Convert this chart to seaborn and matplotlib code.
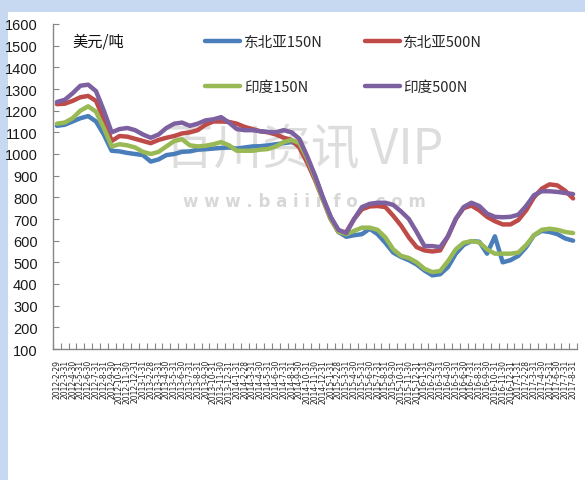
import pandas as pd
import seaborn as sns
import matplotlib.pyplot as plt
from matplotlib.patches import Rectangle

# month-end dates, 2012-2 .. 2017-8
dates = [
    "2012-2-29", "2012-3-31", "2012-4-30", "2012-5-31", "2012-6-30", "2012-7-31",
    "2012-8-31", "2012-9-30", "2012-10-31", "2012-11-30", "2012-12-31",
    "2013-1-31", "2013-2-28", "2013-3-31", "2013-4-30", "2013-5-31", "2013-6-30",
    "2013-7-31", "2013-8-31", "2013-9-30", "2013-10-31", "2013-11-30", "2013-12-31",
    "2014-1-31", "2014-2-28", "2014-3-31", "2014-4-30", "2014-5-31", "2014-6-30",
    "2014-7-31", "2014-8-31", "2014-9-30", "2014-10-31", "2014-11-30", "2014-12-31",
    "2015-1-31", "2015-2-28", "2015-3-31", "2015-4-30", "2015-5-31", "2015-6-30",
    "2015-7-31", "2015-8-31", "2015-9-30", "2015-10-31", "2015-11-30", "2015-12-31",
    "2016-1-31", "2016-2-29", "2016-3-31", "2016-4-30", "2016-5-31", "2016-6-30",
    "2016-7-31", "2016-8-31", "2016-9-30", "2016-10-31", "2016-11-30", "2016-12-31",
    "2017-1-31", "2017-2-28", "2017-3-31", "2017-4-30", "2017-5-31", "2017-6-30",
    "2017-7-31", "2017-8-31",
]

ne_asia_150 = [
    1130, 1135, 1150, 1165, 1175, 1150, 1090, 1015, 1012, 1005, 1000, 995, 965,
    975, 995, 1000, 1010, 1012, 1020, 1022, 1025, 1028, 1030, 1025, 1030, 1035,
    1036, 1040, 1045, 1050, 1055, 1040, 980, 900, 800, 710, 640, 618, 625, 630,
    655, 630, 590, 545, 525, 510, 490, 462, 440, 445, 478, 540, 580, 598, 595,
    540, 620, 500, 510, 530, 570, 625, 645, 640, 630, 610, 600,
]
ne_asia_500 = [
    1230, 1232, 1245, 1262, 1268, 1245, 1160, 1060, 1083, 1080, 1070, 1060, 1050,
    1065, 1075, 1083, 1095, 1100, 1110, 1135, 1150, 1150, 1148, 1140, 1125, 1115,
    1105, 1100, 1090, 1075, 1065, 1030, 960, 880, 790, 700, 640, 640, 700, 745,
    758, 760, 755, 715, 670, 615, 570, 555, 550, 555, 620, 700, 750, 762, 740,
    710, 690, 675, 675, 695, 740, 800, 840, 860, 855, 830, 795,
]
india_150 = [
    1140, 1145, 1165, 1200, 1220, 1195, 1120, 1035, 1045, 1040, 1030, 1010, 1000,
    1010, 1035, 1060, 1068, 1040, 1035, 1038, 1045, 1055, 1040, 1015, 1015, 1015,
    1020, 1023, 1035, 1055, 1065, 1050, 980, 890, 790, 700, 640, 630, 645, 660,
    660, 650, 615, 560, 530, 520, 500, 470, 455, 460, 505, 560, 590, 598, 592,
    560, 540, 540, 540, 545, 580, 625, 650, 655, 650, 640, 635,
]
india_500 = [
    1240, 1250, 1280, 1315, 1320, 1290, 1200, 1100, 1115, 1120, 1110, 1090, 1075,
    1090, 1120, 1140, 1145, 1130, 1140, 1155, 1160, 1170, 1145, 1115, 1110, 1110,
    1105, 1102, 1100, 1110, 1100, 1070, 990, 900, 800, 710, 650, 635, 700, 755,
    770, 775, 775, 765, 735, 700, 640, 575, 575, 570, 620, 700, 755, 775, 760,
    725, 710, 708, 710, 720, 760, 810, 828, 828, 825, 820, 815,
]

series_names = ["东北亚150N", "东北亚500N", "印度150N", "印度500N"]
colors = ["#4A7EBB", "#BE4B48", "#98B954", "#7D60A0"]

rows = []
for name, vals in zip(series_names, [ne_asia_150, ne_asia_500, india_150, india_500]):
    for i, v in enumerate(vals):
        rows.append({"idx": i, "price": v, "series": name})
df = pd.DataFrame(rows)

sns.set_style("white")
plt.rcParams['font.family'] = ['Noto Sans CJK SC', 'DejaVu Sans']

fig = plt.figure(figsize=(5.85, 4.81), dpi=100)
fig.patch.set_facecolor("#C6D9F1")
# white panel inside the light blue frame
fig.add_artist(Rectangle((8 / 585, 0), 1, 1 - 13 / 481, transform=fig.transFigure,
                         facecolor="white", edgecolor="none", zorder=-5))

ax = fig.add_axes([53 / 585, 1 - 350 / 481, 524 / 585, 325 / 481])
ax.set_facecolor("none")

sns.lineplot(data=df, x="idx", y="price", hue="series", hue_order=series_names,
             palette=colors, linewidth=3.2, sort=False, ax=ax, zorder=3)

# watermark
ax.text(0.48, 0.615, "百川资讯 VIP", transform=ax.transAxes, ha="center", va="center",
        fontsize=35, color="#dddddd", fontweight="light", zorder=1)
ax.text(0.48, 0.455, "w w w . b a i i n f o . c o m", transform=ax.transAxes,
        ha="center", va="center", fontsize=12, color="#d8d8d8", fontweight="bold",
        family=["DejaVu Sans"], zorder=1)

ax.text(72 / 585, 1 - 42 / 481, "美元/吨", transform=fig.transFigure, fontsize=11,
        va="center", ha="left", color="#111111")

ax.set_xlim(-0.5, len(dates) - 0.5)
ax.set_ylim(100, 1600)
ax.set_yticks(range(100, 1601, 100))
ax.set_yticklabels([str(v) for v in range(100, 1601, 100)],
                   family=["Liberation Sans"], fontsize=10.5, color="#1a1a1a")
ax.set_xticks(range(len(dates)))
ax.set_xticklabels(dates, rotation=90, fontsize=5.5, family=["DejaVu Sans"])
ax.set_xticks([i - 0.5 for i in range(len(dates) + 1)], minor=True)
ax.tick_params(axis="x", which="major", length=0, pad=7)
ax.tick_params(axis="x", which="minor", direction="in", length=4, color="#868686",
               width=0.8, bottom=True)
ax.tick_params(axis="y", direction="in", length=4, color="#868686", width=0.8, pad=11,
               left=True)
ax.set_xlabel("")
ax.set_ylabel("")
for s in ["top", "right"]:
    ax.spines[s].set_visible(False)
for s in ["left", "bottom"]:
    ax.spines[s].set_color("#868686")
    ax.spines[s].set_linewidth(1)

# legend laid out row by row like the original
handles, labels = ax.get_legend_handles_labels()
order = [0, 2, 1, 3]
ax.legend([handles[k] for k in order], [labels[k] for k in order], ncol=2,
          frameon=False, loc="upper left",
          bbox_to_anchor=(205 / 585, 1 - 36 / 481), bbox_transform=fig.transFigure,
          fontsize=10.5, handlelength=2.4, handletextpad=0.25, columnspacing=2.9,
          labelspacing=2.1, borderpad=0, borderaxespad=0)

fig.savefig("out.png", dpi=100, facecolor=fig.get_facecolor())
